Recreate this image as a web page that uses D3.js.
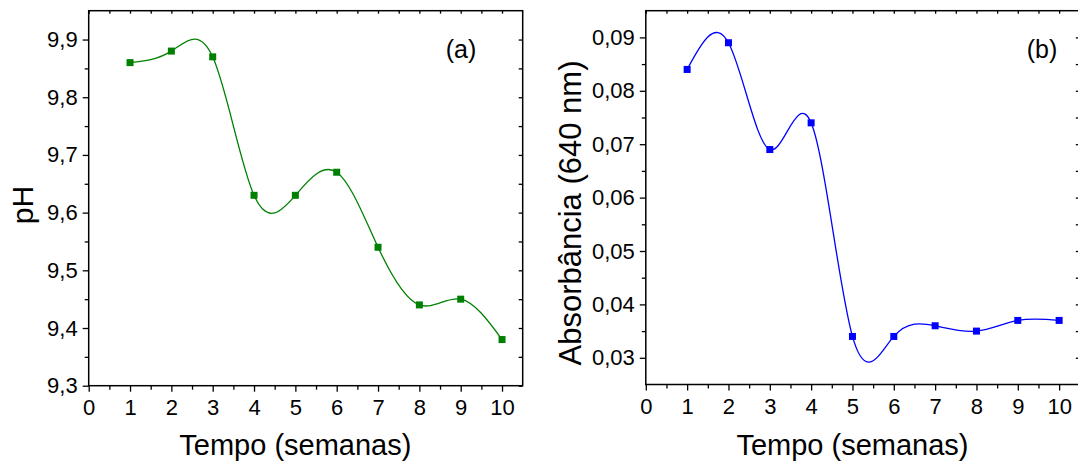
<!DOCTYPE html>
<html>
<head>
<meta charset="utf-8">
<script src="https://cdn.jsdelivr.net/npm/d3@7"></script>
<style>
  html, body { margin: 0; padding: 0; background: #fff; }
  svg { display: block; font-family: "Liberation Sans", Arial, sans-serif; }
</style>
</head>
<body>
<svg id="chart" width="1078" height="465"></svg>
<script>
// Weeks of storage
const weeks = [1, 2, 3, 4, 5, 6, 7, 8, 9, 10];
// Panel (a): pH
const phValues = [9.86, 9.88, 9.87, 9.63, 9.63, 9.67, 9.54, 9.44, 9.45, 9.38];
// Panel (b): absorbance at 640 nm
const absValues = [0.084, 0.089, 0.069, 0.074, 0.034, 0.034, 0.036, 0.035, 0.037, 0.037];

const xTicks = [0, 1, 2, 3, 4, 5, 6, 7, 8, 9, 10];
const phTicks = [9.3, 9.4, 9.5, 9.6, 9.7, 9.8, 9.9];
const absTicks = [0.03, 0.04, 0.05, 0.06, 0.07, 0.08, 0.09];

const xTitle = "Tempo (semanas)";
const phTitle = "pH";
const absTitle = "Absorbância (640 nm)";

const ptBR = d3.formatLocale({ decimal: ",", thousands: ".", grouping: [3], currency: ["R$", ""] });

const svg = d3.select("#chart");

function panel(cfg) {
  const g = svg.append("g");
  const x = d3.scaleLinear().domain([0, 10.5]).range([cfg.left, cfg.right]);
  const y = d3.scaleLinear().domain(cfg.yDomain).range([cfg.bottom, cfg.top]);

  const xMinor = d3.range(0.5, 10.5, 1);
  const yStep = cfg.yTicks[1] - cfg.yTicks[0];
  const yMinor = cfg.yTicks.map(v => v + yStep / 2).filter(v => v < cfg.yDomain[1]);

  // bottom axis
  g.append("g").attr("transform", `translate(0,${cfg.bottom})`)
    .call(d3.axisBottom(x).tickValues(xTicks).tickSize(6).tickPadding(8).tickFormat(d3.format("d")))
    .call(a => a.select(".domain").remove());
  g.append("g").attr("transform", `translate(0,${cfg.bottom})`)
    .call(d3.axisBottom(x).tickValues(xMinor).tickSize(4).tickFormat(""))
    .call(a => a.select(".domain").remove());
  // left axis
  g.append("g").attr("transform", `translate(${cfg.left},0)`)
    .call(d3.axisLeft(y).tickValues(cfg.yTicks).tickSize(6).tickPadding(5).tickFormat(ptBR.format(cfg.fmt)))
    .call(a => a.select(".domain").remove());
  g.append("g").attr("transform", `translate(${cfg.left},0)`)
    .call(d3.axisLeft(y).tickValues(yMinor).tickSize(4).tickFormat(""))
    .call(a => a.select(".domain").remove());
  // top and right axes with inward ticks
  g.append("g").attr("transform", `translate(0,${cfg.top})`)
    .call(d3.axisBottom(x).tickValues(xTicks.concat(xMinor)).tickSize(3).tickFormat(""))
    .call(a => a.select(".domain").remove());
  g.append("g").attr("transform", `translate(${cfg.right},0)`)
    .call(d3.axisLeft(y).tickValues(cfg.yTicks.concat(yMinor)).tickSize(4).tickFormat(""))
    .call(a => a.select(".domain").remove());

  g.selectAll(".tick line").attr("stroke", "#000").attr("stroke-width", 1.3);
  g.selectAll(".tick text").attr("font-size", 22).attr("font-family", "Liberation Sans, Arial, sans-serif").attr("fill", "#000");

  // frame
  g.append("rect")
    .attr("x", cfg.left).attr("y", cfg.top)
    .attr("width", cfg.right - cfg.left).attr("height", cfg.bottom - cfg.top)
    .attr("fill", "none").attr("stroke", "#000").attr("stroke-width", 1.5);

  const pts = weeks.map((w, i) => [w, cfg.values[i]]);

  // smooth spline through the measurements
  g.append("path")
    .datum(pts)
    .attr("fill", "none")
    .attr("stroke", cfg.color)
    .attr("stroke-width", 1.3)
    .attr("d", d3.line().x(d => x(d[0])).y(d => y(d[1])).curve(d3.curveNatural));

  const s = 7;
  g.selectAll("rect.pt").data(pts).join("rect")
    .attr("class", "pt")
    .attr("x", d => x(d[0]) - s / 2).attr("y", d => y(d[1]) - s / 2)
    .attr("width", s).attr("height", s)
    .attr("fill", cfg.color);

  // axis titles
  g.append("text")
    .attr("x", x(5)).attr("y", 455)
    .attr("text-anchor", "middle").attr("font-size", 29)
    .text(xTitle);
  g.append("text")
    .attr("transform", `translate(${cfg.yTitleX},${cfg.yTitleY}) rotate(-90)`)
    .attr("text-anchor", "middle").attr("font-size", cfg.yTitleSize)
    .text(cfg.yTitle);

  // panel letter
  g.append("text")
    .attr("x", cfg.letterX).attr("y", 58)
    .attr("text-anchor", "middle").attr("font-size", 25)
    .text(cfg.letter);
}

panel({
  left: 88.7, right: 522.7, top: 10.7, bottom: 385.7,
  yDomain: [9.3, 9.95], yTicks: phTicks, fmt: ".1f",
  values: phValues, color: "#008000",
  yTitle: phTitle, yTitleX: 33, yTitleY: 205, yTitleSize: 30,
  letter: "(a)", letterX: 461
});

panel({
  left: 645.8, right: 1079.8, top: 10.7, bottom: 384.5,
  yDomain: [0.025, 0.095], yTicks: absTicks, fmt: ".2f",
  values: absValues, color: "#0000ff",
  yTitle: absTitle, yTitleX: 581, yTitleY: 213, yTitleSize: 31,
  letter: "(b)", letterX: 1042
});
</script>
</body>
</html>
